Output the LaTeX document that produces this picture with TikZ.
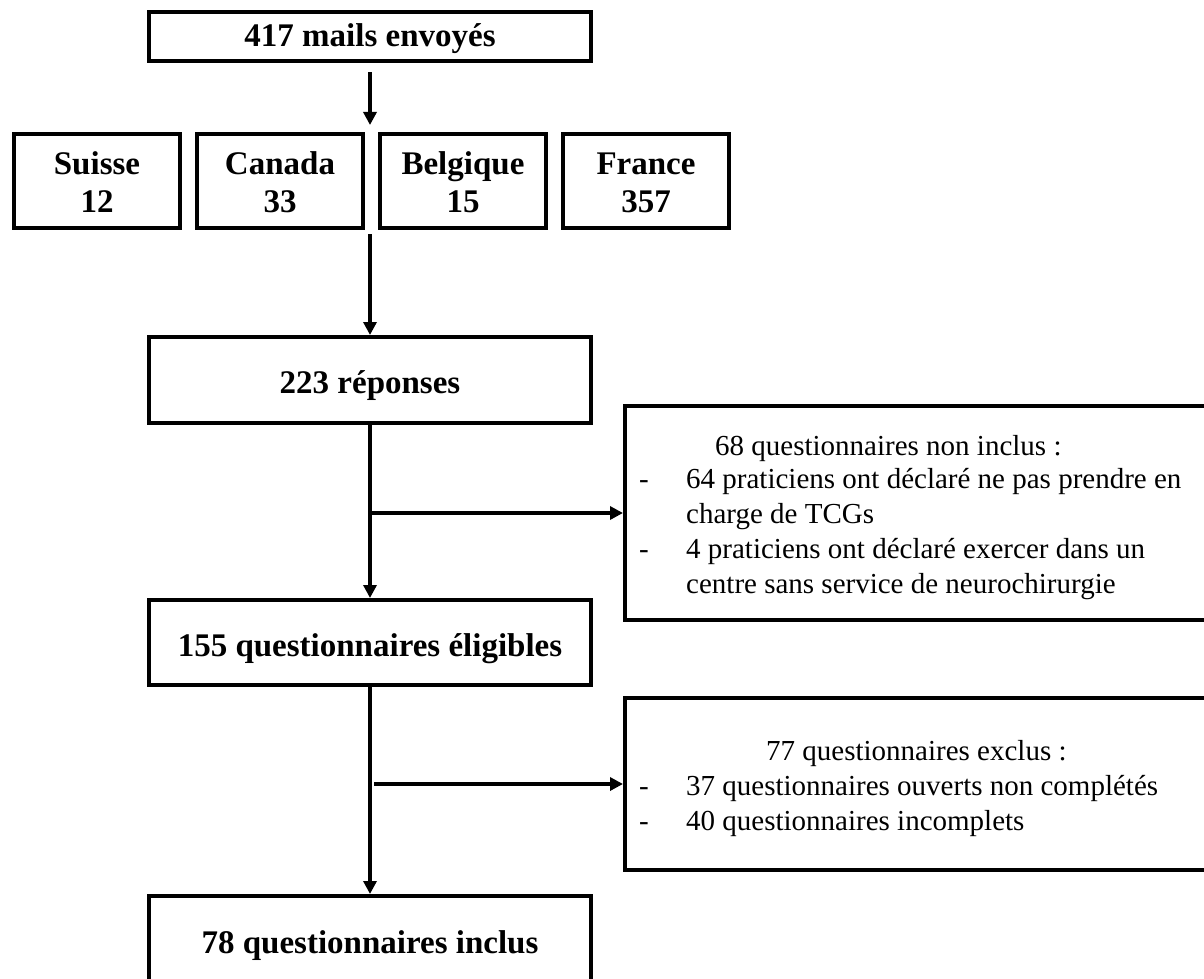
\documentclass[tikz,border=0pt]{standalone}
\usepackage{fontspec}
\setmainfont{Liberation Serif}
\usetikzlibrary{arrows.meta}
\newcommand\lowertext[2]{\raisebox{-#1}[\height][\depth]{#2}}
\begin{document}
\begin{tikzpicture}[x=1pt,y=-1pt,
  box/.style={draw, line width=4pt, inner sep=0pt, align=center,
    font=\bfseries\fontsize{33}{38}\selectfont},
  sidebox/.style={draw, line width=4pt, inner sep=0pt},
  txt/.style={anchor=base west, inner sep=0pt, font=\fontsize{29}{35}\selectfont},
  arr/.style={line width=3.5pt, -{Triangle[length=13pt,width=13pt]}},
  ln/.style={line width=3.5pt}]
\fill[white] (0,0) rectangle (1204,979);
\useasboundingbox (0,0) rectangle (1204,979);
% main boxes
\node[box, minimum width=442pt, minimum height=49pt] (mails) at (370,37) {\lowertext{2pt}{417 mails envoyés}};
\node[box, minimum width=166pt, minimum height=94pt] (suisse) at (97,181) {\lowertext{5pt}{\begin{tabular}{@{}c@{}}Suisse\\12\end{tabular}}};
\node[box, minimum width=166pt, minimum height=94pt] (canada) at (280,181) {\lowertext{5pt}{\begin{tabular}{@{}c@{}}Canada\\33\end{tabular}}};
\node[box, minimum width=166pt, minimum height=94pt] (belgique) at (463,181) {\lowertext{5pt}{\begin{tabular}{@{}c@{}}Belgique\\15\end{tabular}}};
\node[box, minimum width=166pt, minimum height=94pt] (france) at (646,181) {\lowertext{5pt}{\begin{tabular}{@{}c@{}}France\\357\end{tabular}}};
\node[box, minimum width=442pt, minimum height=86pt] (rep) at (370,380) {\lowertext{6pt}{223 réponses}};
\node[box, minimum width=442pt, minimum height=85pt] (elig) at (370,642.5) {\lowertext{6pt}{155 questionnaires éligibles}};
\node[box, minimum width=442pt, minimum height=86pt] (incl) at (370,939) {\lowertext{7pt}{78 questionnaires inclus}};
% side boxes
\node[sidebox, minimum width=583pt, minimum height=214pt] (nonincl) at (916.5,513) {};
\node[sidebox, minimum width=583pt, minimum height=172pt] (excl) at (916.5,784) {};
% side box texts
\node[txt] (n0) at (715,455) {68 questionnaires non inclus :};
\node[txt] (nd1) at (639,488) {-};
\node[txt] (n1) at (686,488) {64 praticiens ont déclaré ne pas prendre en};
\node[txt] (n2) at (686,523) {charge de TCGs};
\node[txt] (nd2) at (639,558) {-};
\node[txt] (n3) at (686,558) {4 praticiens ont déclaré exercer dans un};
\node[txt] (n4) at (686,593) {centre sans service de neurochirurgie};
\node[txt] (e0) at (766,760) {77 questionnaires exclus :};
\node[txt] (ed1) at (639,795) {-};
\node[txt] (e1) at (686,795) {37 questionnaires ouverts non complétés};
\node[txt] (ed2) at (639,830) {-};
\node[txt] (e2) at (686,830) {40 questionnaires incomplets};
% connectors
\coordinate (rowtop) at (mails.south |- canada.north);
\coordinate (rowbot) at (mails.south |- canada.south);
\draw[arr, shorten <=9pt, shorten >=7pt] (mails.south) -- (rowtop);
\draw[arr, shorten <=4pt] (rowbot) -- (rep.north);
\draw[arr] (rep.south) -- (elig.north);
\draw[arr] (rep.south |- nonincl.west) -- (nonincl.west);
\draw[arr] (elig.south) -- (incl.north);
\draw[arr] ([xshift=4pt]elig.south |- excl.west) -- (excl.west);
\end{tikzpicture}
\end{document}
